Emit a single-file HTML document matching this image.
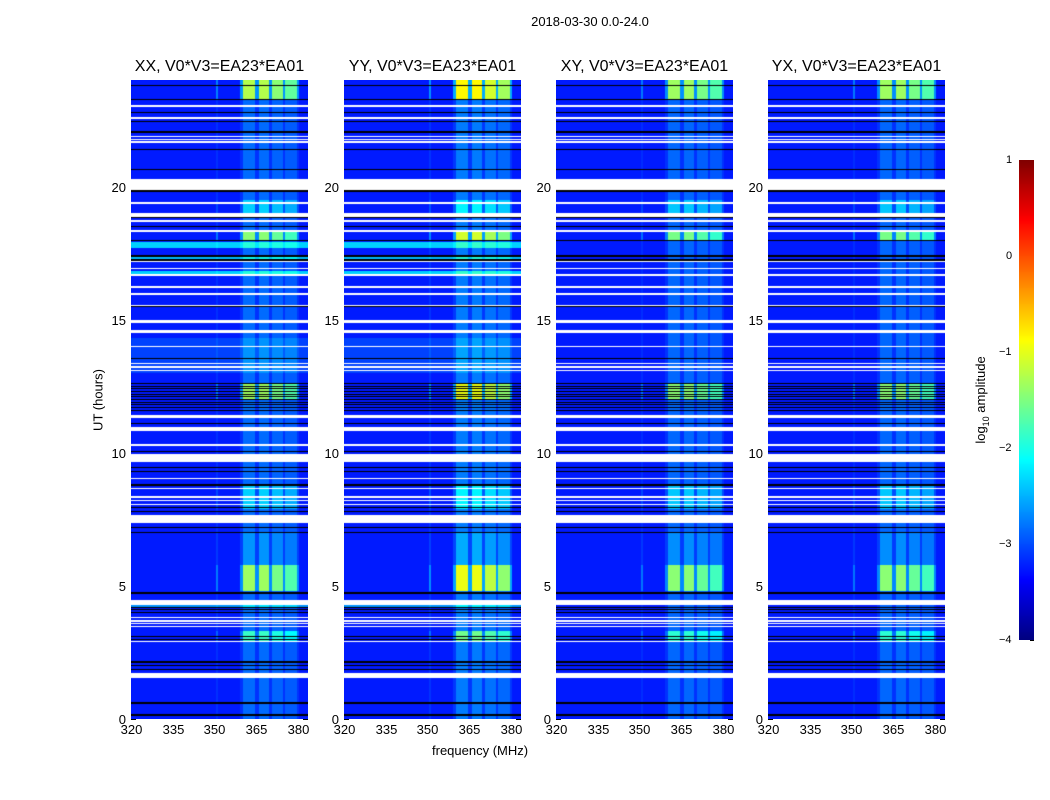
<!DOCTYPE html>
<html><head><meta charset="utf-8">
<style>
body{margin:0;background:#fff;font-family:"Liberation Sans",sans-serif;}
#root{position:relative;width:1050px;height:800px;overflow:hidden;background:#fff;}
.t{position:absolute;white-space:nowrap;color:#000;}
canvas{position:absolute;}
</style></head>
<body>
<div id="root">
<div class="t" style="left:0;width:1180px;text-align:center;top:14px;font-size:13px;">2018-03-30 0.0-24.0</div>
<div class="t" style="left:98px;top:400px;font-size:13px;transform:translate(-50%,-50%) rotate(-90deg);">UT (hours)</div>
<div class="t" style="left:432px;top:743px;font-size:13px;">frequency (MHz)</div>
<div class="t" style="left:982px;top:400px;font-size:13px;transform:translate(-50%,-50%) rotate(-90deg);">log<sub style="font-size:9px">10</sub> amplitude</div>
<svg id="ov" width="1050" height="800" style="position:absolute;left:0;top:0"></svg>
</div>
<script>
// ---- data ----
const panelTitles = ["XX, V0*V3=EA23*EA01","YY, V0*V3=EA23*EA01","XY, V0*V3=EA23*EA01","YX, V0*V3=EA23*EA01"];
const panelGain = [1.0, 1.2, 0.95, 0.95];
const panelCyan = [1, 1, 0, 0];
const xTicks = [320,335,350,365,380];
const yTicks = [0,5,10,15,20];
const cbTicks = [1,0,-1,-2,-3,-4];
const baseLevel = -3.25;
// flagged (white) time intervals, hours
const flagged = [[22.97,23.05],[22.53,22.62],[21.65,21.7],[21.75,21.8],[21.85,21.9],[19.87,20.3],[19.35,19.41],[18.85,19.0],[18.67,18.73],[18.3,18.36],
 [17.15,17.2],[16.9,16.95],[16.64,16.7],[16.2,16.26],[15.92,15.99],[15.5,15.54],[14.88,15.0],[14.5,14.62],[13.96,14.0],[13.33,13.37],[13.2,13.24],[13.08,13.12],
 [11.3,11.4],[10.8,10.97],[10.27,10.31],[9.65,9.95],[9.03,9.07],[8.62,8.66],[8.3,8.38],[8.2,8.24],[8.05,8.09],[7.36,7.66],[4.28,4.47],
 [3.78,3.83],[3.66,3.71],[3.56,3.6],[3.46,3.5],[2.88,2.92],[1.55,1.73]];
// black lines, hours
const blackLines = [23.8,23.27,22.78,22.43,22.05,21.4,20.64,19.83,18.83,18.49,17.96,17.39,17.24,15.48,13.55,
 12.6,12.5,12.4,12.3,12.2,12.1,12.0,11.9,11.8,11.7,11.6,11.1,10.04,9.45,9.3,8.79,7.95,7.8,7.2,7.0,4.73,4.2,4.1,4.0,3.1,3.0,2.14,2.0,1.85,0.6,0.15];
// rows bright across whole band (log amp increase)
const cyanRows = [[17.7,17.9,0.9],[17.28,17.38,0.8],[16.7,16.82,0.9],[13.0,14.3,0.2],[4.2,4.3,0.6]];
// band channels [fLow, fHigh, weight]
const bandChannels = [[360.2,364.5,1.0],[365.9,369.5,1.0],[370.5,374.5,0.9],[375.2,379.6,0.8],[350.5,351.3,0.25]];
// band activity segments [start, end, strength]
const bandSegments = [[23.3,24,2.0],[17.95,18.3,1.8],[19.0,19.5,0.9],[12.0,12.6,1.9],[4.8,5.8,1.9],[5.8,7.0,0.6],[2.9,3.3,1.4],[7.9,8.8,0.9]];
const bandDefault = 0.4;

// ---- geometry ----
const panelX = [131,344,556,768], PW=177, PT=80, PB=719, PH=PB-PT;
const fMin=320, fMax=383.6, tMin=0, tMax=24;
const xs=(f,i)=>panelX[i]+(f-fMin)/(fMax-fMin)*PW;
const ys=h=>PB-(h-tMin)/(tMax-tMin)*PH;
function jet(v){v=Math.max(0,Math.min(1,v));
 const c=x=>Math.max(0,Math.min(1,1.5-Math.abs(x)));
 return [c(4*v-3),c(4*v-2),c(4*v-1)].map(a=>Math.round(a*255));}
const root=document.getElementById('root');
const ov=document.getElementById('ov');
const NS='http://www.w3.org/2000/svg';
function sv(tag,at,name){const e=document.createElementNS(NS,tag);for(const k in at)e.setAttribute(k,at[k]);
 
 
 ov.appendChild(e);return e;}
function inAny(h,arr){for(const a of arr) if(h>=a[0]&&h<a[1]) return a; return null;}

for(let i=0;i<4;i++){
 const cv=document.createElement('canvas');
 cv.width=PW;cv.height=PH;cv.style.left=panelX[i]+'px';cv.style.top=PT+'px';
 
 
 root.appendChild(cv);
 const ctx=cv.getContext('2d');const img=ctx.createImageData(PW,PH);
 for(let y=0;y<PH;y++){
  const h=tMax-(y+0.5)/PH*(tMax-tMin);
  const flag=inAny(h,flagged);
  let black=false;const dh=(tMax-tMin)/PH;
  for(const b of blackLines) if(Math.abs(h-b)<dh*0.6) black=true;
  const cy=inAny(h,cyanRows);const seg=inAny(h,bandSegments);
  const str=(seg?seg[2]:bandDefault)*panelGain[i];
  for(let x=0;x<PW;x++){
   const o=(y*PW+x)*4;
   if(flag){img.data[o]=255;img.data[o+1]=255;img.data[o+2]=255;img.data[o+3]=255;continue;}
   if(black){img.data[o]=0;img.data[o+1]=0;img.data[o+2]=0;img.data[o+3]=255;continue;}
   const f=fMin+(x+0.5)/PW*(fMax-fMin);
   let v=baseLevel+(cy?cy[2]*panelCyan[i]:0);
   const ch=inAny(f,bandChannels);
   if(ch) v+=ch[2]*str;
   else if(f>359&&f<380.5) v+=0.3*str;
   const c=jet((v+4)/5);
   img.data[o]=c[0];img.data[o+1]=c[1];img.data[o+2]=c[2];img.data[o+3]=255;
  }
 }
 ctx.putImageData(img,0,0);
 sv('rect',{x:panelX[i]+0.5,y:PT+0.5,width:PW-1,height:PH-1,fill:'none',stroke:'#000','stroke-width':1},'panel-frame-'+(i+1));
 const t=document.createElement('div');t.className='t';
 
 
 t.style.cssText=`left:${panelX[i]+PW/2}px;top:58px;font-size:16px;transform:translateX(-50%)`;
 t.textContent=panelTitles[i];root.appendChild(t);
 for(const f of xTicks){const X=Math.round(xs(f,i))+0.5;
  sv('line',{x1:X,x2:X,y1:PB,y2:PB-4,stroke:'#000'},'x-tick');
  sv('line',{x1:X,x2:X,y1:PT,y2:PT+4,stroke:'#000'},'x-tick-top');
  const l=document.createElement('div');l.className='t';
  
  
  l.style.cssText=`left:${X}px;top:${PB+3}px;font-size:13px;transform:translateX(-50%)`;
  l.textContent=f;root.appendChild(l);}
 for(const h of yTicks){const Y=Math.round(ys(h))+0.5;
  sv('line',{x1:panelX[i],x2:panelX[i]+5,y1:Y,y2:Y,stroke:'#000'},'y-tick');
  sv('line',{x1:panelX[i]+PW-5,x2:panelX[i]+PW,y1:Y,y2:Y,stroke:'#000'},'y-tick-right');
  const l=document.createElement('div');l.className='t';
  
  
  l.style.cssText=`left:${panelX[i]-5}px;top:${Y-8}px;font-size:13px;transform:translateX(-100%)`;
  l.textContent=h;root.appendChild(l);}
}
// colorbar
const cbX=1019,cbW=15,cbT=160,cbB=640;
const cb=document.createElement('canvas');cb.width=cbW;cb.height=cbB-cbT;
cb.style.left=cbX+'px';cb.style.top=cbT+'px';


root.appendChild(cb);
const cc=cb.getContext('2d');
for(let y=0;y<cbB-cbT;y++){const c=jet(1-(y+0.5)/(cbB-cbT));cc.fillStyle=`rgb(${c})`;cc.fillRect(0,y,cbW,1);}
sv('rect',{x:cbX+0.5,y:cbT+0.5,width:cbW-1,height:cbB-cbT-1,fill:'none',stroke:'#000'},'colorbar-frame');
for(const v of cbTicks){const Y=Math.round(cbT+(1-v)/5*(cbB-cbT))+0.5;
 sv('line',{x1:cbX+cbW-4,x2:cbX+cbW,y1:Y,y2:Y,stroke:'#000'},'colorbar-tick');
 const l=document.createElement('div');l.className='t';
 
 
 l.style.cssText=`left:${v<0?999:1006}px;top:${Y-7}px;font-size:11px`;
 l.textContent=v<0?'\u2212'+(-v):v;root.appendChild(l);}
</script>
</body></html>
